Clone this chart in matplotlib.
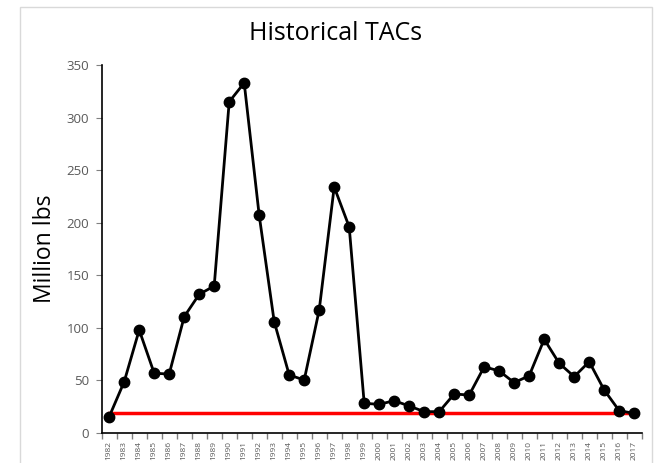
import matplotlib
matplotlib.use("Agg")
import matplotlib.pyplot as plt
from matplotlib.patches import Rectangle
from matplotlib.ticker import FixedLocator

years = [str(y) for y in range(1982, 2018)]
tac = [15.5, 48.8, 98, 56.8, 56.1, 110.6, 131.9, 139.8, 315, 333, 207, 105.9,
       55.2, 50.4, 117, 234, 196, 28.2, 27.3, 30.7, 25.7, 20.3, 20.3, 37.1,
       36.1, 63, 59, 47.9, 54.5, 89.1, 66.3, 53.6, 67.8, 40.9, 21.2, 18.7]
reference_level = 18.7
yticks = [0, 50, 100, 150, 200, 250, 300, 350]

plt.rcParams['font.family'] = ['Open Sans', 'DejaVu Sans']

fig = plt.figure(figsize=(6.58, 4.63), dpi=100)
fig.patches.append(Rectangle((20/658, -0.05), (652-20)/658, 1 - 7/463 + 0.05,
                             transform=fig.transFigure, fill=False,
                             edgecolor='#d9d9d9', linewidth=1))
ax = fig.add_axes([101.7/658, 1-433/463, 540/658, 368/463])

x = list(range(len(years)))
ax.plot([x[0], x[-1]], [reference_level, reference_level], color='#ff0000',
        linewidth=2.5, zorder=2)
ax.plot(x, tac, color='black', linewidth=2, marker='o', markersize=7.5, zorder=3)

ax.set_xlim(-0.5, len(years) - 0.5)
ax.set_ylim(0, 350)
ax.set_yticks(yticks)
ax.set_xticks(x)
ax.set_xticklabels(years, rotation=90, fontsize=6, color='#595959')
ax.xaxis.set_minor_locator(FixedLocator([i - 0.5 for i in range(len(years) + 1)]))
ax.tick_params(axis='x', which='major', length=0, pad=6)
ax.tick_params(axis='x', which='minor', length=4, color='#808080', width=1)
ax.tick_params(axis='y', length=4, color='#808080', labelsize=9.5,
               labelcolor='#595959', pad=5)
for s in ['top', 'right']:
    ax.spines[s].set_visible(False)
for s in ['left', 'bottom']:
    ax.spines[s].set_color('black')
    ax.spines[s].set_linewidth(1.2)

fig.text(45/658, 1 - 249/463, 'Million lbs', rotation=90, ha='center', va='center',
         fontsize=16.5, color='black')
fig.text(336/658, 1 - 33/463, 'Historical TACs', ha='center', va='center', fontsize=18)

fig.savefig('out.png', dpi=100)
